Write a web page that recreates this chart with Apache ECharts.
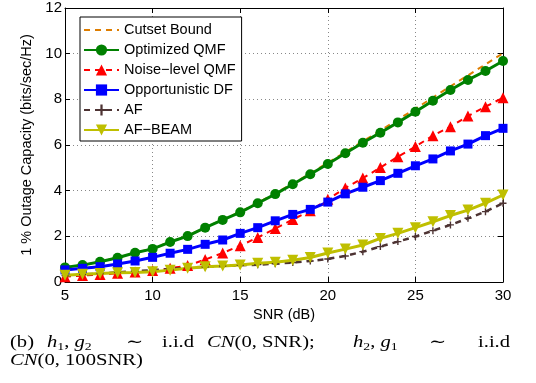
<!DOCTYPE html>
<html>
<head>
<meta charset="utf-8">
<script src="https://cdn.jsdelivr.net/npm/echarts@6/dist/echarts.min.js"></script>
<style>
html,body{margin:0;padding:0;background:#fff;}
#chart{width:536px;height:383px;}
</style>
</head>
<body>
<div id="chart"></div>
<script>
var snr = [5,6,7,8,9,10,11,12,13,14,15,16,17,18,19,20,21,22,23,24,25,26,27,28,29,30];
var xTicks = [5,10,15,20,25,30];
var yTicks = [0,2,4,6,8,10,12];
var seriesNames = ['Cutset Bound','Optimized QMF','Noise\u2212level QMF','Opportunistic DF','AF','AF\u2212BEAM'];
var cutset = [0.64,0.74,0.89,1.06,1.28,1.46,1.76,2.02,2.39,2.73,3.07,3.47,3.88,4.31,4.76,5.22,5.69,6.16,6.63,7.11,7.59,8.08,8.57,9.05,9.53,10.02];
var optQMF = [0.64,0.74,0.89,1.06,1.28,1.45,1.75,2.01,2.38,2.72,3.05,3.45,3.85,4.28,4.72,5.17,5.64,6.10,6.54,6.99,7.46,7.94,8.41,8.85,9.24,9.68];
var noiseQMF = [0.23,0.28,0.33,0.38,0.44,0.50,0.60,0.72,0.98,1.27,1.59,1.95,2.34,2.74,3.12,3.62,4.12,4.55,5.01,5.49,5.93,6.41,6.80,7.27,7.68,8.07];
var oppDF = [0.53,0.60,0.67,0.79,0.92,1.08,1.26,1.43,1.65,1.84,2.13,2.38,2.68,2.96,3.18,3.50,3.86,4.15,4.44,4.76,5.09,5.39,5.74,6.04,6.41,6.73];
var af = [0.28,0.33,0.37,0.42,0.47,0.52,0.57,0.62,0.66,0.70,0.73,0.76,0.80,0.85,0.92,1.01,1.14,1.33,1.55,1.77,1.99,2.25,2.50,2.79,3.08,3.45];
var afBeam = [0.30,0.34,0.37,0.40,0.42,0.45,0.52,0.60,0.67,0.70,0.74,0.82,0.86,0.95,1.07,1.27,1.44,1.62,1.91,2.13,2.38,2.64,2.91,3.15,3.45,3.81];

function pairs(ys){ return snr.map(function(x,i){ return [x, ys[i]]; }); }

var FONT = 'Liberation Sans, Arial, Helvetica, sans-serif';
var SERIF = 'Liberation Serif, Times New Roman, DejaVu Serif, serif';
var plus = 'path://M4,0 L6,0 L6,4 L10,4 L10,6 L6,6 L6,10 L4,10 L4,6 L0,6 L0,4 L4,4 Z';

var chart = echarts.init(document.getElementById('chart'), null, {renderer:'canvas'});

function axisCommon(showLabel){
  return {
    axisLine:{show:true, onZero:false, lineStyle:{color:'#000', width:1}},
    axisTick:{show:true, inside:true, length:5, lineStyle:{color:'#000'}},
    axisLabel:{show:showLabel, color:'#000', fontSize:15, fontFamily:FONT},
    splitLine:{show:false}
  };
}

var xMain = Object.assign(axisCommon(true), {
  type:'value', min:5, max:30, interval:5, position:'bottom',
  name:'SNR (dB)', nameLocation:'middle', nameGap:14,
  nameTextStyle:{color:'#000', fontSize:14.5, fontFamily:FONT},
  splitLine:{show:true, lineStyle:{color:'#888', type:[1,3], width:1}}
});
xMain.axisLabel.margin = 6;
var xTop = Object.assign(axisCommon(false), {type:'value', min:5, max:30, interval:5, position:'top'});
var yMain = Object.assign(axisCommon(true), {
  type:'value', min:0, max:12, interval:2, position:'left',
  name:'1 % Outage Capacity (bits/sec/Hz)', nameLocation:'middle', nameGap:22,
  nameTextStyle:{color:'#000', fontSize:14.5, fontFamily:FONT},
  splitLine:{show:true, lineStyle:{color:'#888', type:[1,3], width:1}}
});
yMain.axisLabel.margin = 3;
var yRight = Object.assign(axisCommon(false), {type:'value', min:0, max:12, interval:2, position:'right'});

function mk(name, data, color, lineType, width, symbol, size){
  return {
    name:name, type:'line', xAxisIndex:0, yAxisIndex:0, data:pairs(data),
    symbol:symbol, symbolSize:size, showSymbol:true,
    lineStyle:{color:color, width:width, type:lineType},
    itemStyle:{color:color, borderColor:color, borderWidth:0},
    animation:false, silent:true
  };
}

var series = [
  mk(seriesNames[0], cutset, '#de7d00', [6,5], 2, 'none', 0),
  mk(seriesNames[1], optQMF, '#008000', 'solid', 3, 'circle', 10),
  mk(seriesNames[2], noiseQMF, '#ff0000', [6,5], 2, 'triangle', 11),
  mk(seriesNames[3], oppDF, '#0000ff', 'solid', 3, 'rect', 9),
  mk(seriesNames[4], af, '#4d3333', [6,5], 2.5, plus, 7),
  mk(seriesNames[5], afBeam, '#bfbf00', 'solid', 3, 'triangle', 11)
];
series[0].showSymbol = false;
series[5].symbolRotate = 180;

var legendData = seriesNames.map(function(n, i){
  if (i === 0) return {name:n, itemStyle:{opacity:0}};
  return {name:n};
});

var cy1 = 343, cy2 = 361;
var CAP = 16.5;
function richText(x, y, text){
  return {type:'text', x:x, y:y, scaleX:1.25, originX:0, originY:0, style:{
    text:text, fill:'#000', fontFamily:SERIF, fontSize:CAP, verticalAlign:'middle', align:'left',
    rich:{
      i:{fontStyle:'italic', fontFamily:SERIF, fontSize:CAP},
      s:{fontFamily:SERIF, fontSize:11, padding:[8,0,0,0]},
      n:{fontFamily:SERIF, fontSize:CAP}
    }
  }};
}

var option = {
  backgroundColor:'#fff',
  animation:false,
  grid:{left:65, top:8, right:33, bottom:101, containLabel:false},
  xAxis:[xMain, xTop],
  yAxis:[yMain, yRight],
  legend:{
    orient:'vertical', left:80, top:17,
    data:legendData,
    backgroundColor:'#fff', borderColor:'#000', borderWidth:1,
    padding:[5,6,3,3], itemGap:4, itemWidth:35, itemHeight:14,
    textStyle:{color:'#000', fontSize:14.5, fontFamily:FONT, lineHeight:16},
    selectedMode:false
  },
  series:series,
  graphic:[
    richText(10, cy1, '(b)'),
    richText(47, cy1, '{i|h}{s|1}{n|,} {i|g}{s|2}'),
    richText(126, cy1, '\u223C'),
    richText(162, cy1, 'i.i.d'),
    richText(207, cy1, '{i|CN}{n|(0, SNR);}'),
    richText(353, cy1, '{i|h}{s|2}{n|,} {i|g}{s|1}'),
    richText(429, cy1, '\u223C'),
    richText(478, cy1, 'i.i.d'),
    richText(10, cy2, '{i|CN}{n|(0, 100SNR)}')
  ]
};
chart.setOption(option);
</script>
</body>
</html>
